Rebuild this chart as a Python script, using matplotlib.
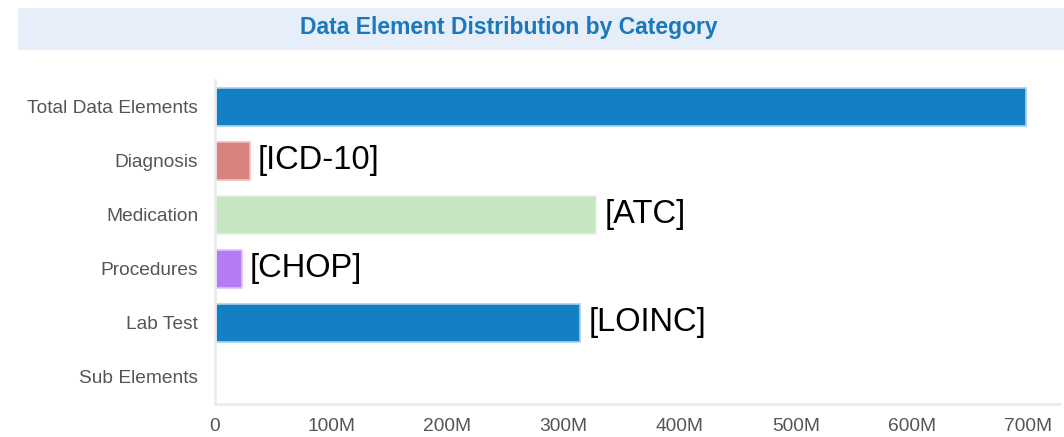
import matplotlib.pyplot as plt
from matplotlib.patches import Rectangle
from matplotlib.ticker import FuncFormatter

# data (values in millions)
categories = ['Total Data Elements', 'Diagnosis', 'Medication', 'Procedures', 'Lab Test', 'Sub Elements']
values = [698, 30, 328, 23, 314, 0]
bar_labels = ['', '[ICD-10]', '[ATC]', '[CHOP]', '[LOINC]', '']
colors = ['#1380c6', '#d98380', '#c6e5c3', '#b57bf5', '#1380c6', '#1380c6']
edge_colors = ['#a9d0ee', '#f0c0be', '#e2f2e0', '#dcc2fb', '#a9d0ee', '#a9d0ee']
x_ticks = [0, 100, 200, 300, 400, 500, 600, 700]

plt.rcParams['font.family'] = ['Liberation Sans', 'DejaVu Sans']

fig = plt.figure(figsize=[10.64, 4.37], dpi=100)
ax = fig.add_axes([0.202, 0.076, 0.794, 0.741])

# title band
fig.patches.append(Rectangle((0.017, 0.886), 0.983, 0.096, transform=fig.transFigure,
                             facecolor='#e5eef9', edgecolor='none', zorder=0))
fig.text(0.478, 0.936, 'Data Element Distribution by Category', ha='center', va='center',
         fontsize=16.5, fontweight='bold', color='#1a78bd')

ypos = list(range(len(categories)))
ax.barh(ypos, values, height=0.7, color=colors, edgecolor=edge_colors, linewidth=1.2)

for y, v, lab in zip(ypos, values, bar_labels):
    if lab:
        ax.annotate(lab, (v, y), xytext=(6, 0), textcoords='offset points',
                    ha='left', va='center', fontsize=23.5, color='black')

ax.set_ylim(len(categories) - 0.5, -0.5)
ax.set_xlim(0, 727)
ax.set_yticks(ypos)
ax.set_yticklabels(categories)
ax.set_xticks(x_ticks)
ax.xaxis.set_major_formatter(FuncFormatter(lambda v, p: '0' if v == 0 else '%dM' % v))
ax.tick_params(length=0, labelsize=13.8, colors='#555555')
ax.tick_params(axis='x', pad=10)
ax.tick_params(axis='y', pad=12)

for s in ['top', 'right']:
    ax.spines[s].set_visible(False)
for s in ['left', 'bottom']:
    ax.spines[s].set_color('#ebebeb')
    ax.spines[s].set_linewidth(2)

fig.savefig('out.png', dpi=100)
